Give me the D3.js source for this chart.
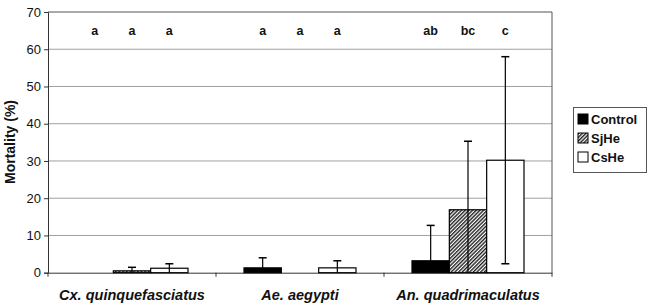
<!DOCTYPE html>
<html>
<head>
<meta charset="utf-8">
<script src="https://cdn.jsdelivr.net/npm/d3@7"></script>
<style>
  body { margin: 0; background: #fff; }
  svg { display: block; font-family: Arial, "Liberation Sans", sans-serif; }
</style>
</head>
<body>
<svg id="chart" width="650" height="307"></svg>
<script>
// data
const species = ["Cx. quinquefasciatus", "Ae. aegypti", "An. quadrimaculatus"];
const treatments = ["Control", "SjHe", "CsHe"];
const control = [0, 1.3, 3.2];
const sjhe = [0.5, 0, 16.9];
const cshe = [1.2, 1.3, 30.2];
const controlErr = [0, 2.7, 9.5];
const sjheErr = [0.95, 0, 18.4];
const csheErr = [1.2, 1.9, 27.8];
const letters = [["a", "a", "a"], ["a", "a", "a"], ["ab", "bc", "c"]];
const yTicks = [0, 10, 20, 30, 40, 50, 60, 70];

const fills = {Control: "#000", SjHe: "url(#hatch)", CsHe: "#fff"};

const svg = d3.select("#chart");
const pLeft = 48, pRight = 552, pTop = 12, pBottom = 272.7;

const x0 = d3.scaleBand(species, [pLeft, pRight]).paddingInner(0).paddingOuter(0);
const x1 = d3.scaleBand(treatments, [0, x0.bandwidth()]).paddingInner(0).paddingOuter(0.75);
const y = d3.scaleLinear([0, 70], [pBottom, pTop]);

const rows = species.map((s, i) => ({
    species: s,
    bars: [
        {t: "Control", v: control[i], e: controlErr[i], l: letters[i][0]},
        {t: "SjHe", v: sjhe[i], e: sjheErr[i], l: letters[i][1]},
        {t: "CsHe", v: cshe[i], e: csheErr[i], l: letters[i][2]}
    ]
}));

const defs = svg.append("defs");
const pat = defs.append("pattern")
    .attr("id", "hatch")
    .attr("patternUnits", "userSpaceOnUse")
    .attr("width", 2.6).attr("height", 2.6)
    .attr("patternTransform", "rotate(45)");
pat.append("rect").attr("width", 2.6).attr("height", 2.6).attr("fill", "#fff");
pat.append("rect").attr("width", 1.4).attr("height", 2.6).attr("fill", "#222");

// grid
svg.append("g")
    .selectAll("line")
    .data(yTicks.slice(1, -1))
    .join("line")
    .attr("x1", pLeft).attr("x2", pRight)
    .attr("y1", d => y(d)).attr("y2", d => y(d))
    .attr("stroke", "#a0a0a0").attr("stroke-width", 1);

// frame top/right
svg.append("path")
    .attr("d", `M${pLeft},${pTop}H${pRight}V${pBottom}`)
    .attr("fill", "none").attr("stroke", "#555").attr("stroke-width", 1);

// y axis
const yAxis = svg.append("g")
    .attr("transform", `translate(${pLeft},0)`)
    .call(d3.axisLeft(y).tickValues(yTicks).tickSize(4).tickPadding(3));
yAxis.select(".domain").attr("stroke", "#333");
yAxis.selectAll("line").attr("stroke", "#333");
yAxis.selectAll("text").attr("font-size", 13).attr("fill", "#111")
    .attr("font-family", "Arial, 'Liberation Sans', sans-serif");

// x axis
const xAxis = svg.append("g")
    .attr("transform", `translate(0,${pBottom})`)
    .call(d3.axisBottom(x0).tickSize(0).tickFormat(""));
xAxis.select(".domain").attr("stroke", "#333");
svg.append("g")
    .selectAll("line")
    .data([pLeft, ...species.map(s => x0(s) + x0.bandwidth())])
    .join("line")
    .attr("x1", d => d).attr("x2", d => d)
    .attr("y1", pBottom).attr("y2", pBottom + 4)
    .attr("stroke", "#333");

svg.append("g")
    .selectAll("text")
    .data(species)
    .join("text")
    .attr("x", d => x0(d) + x0.bandwidth() / 2)
    .attr("y", 300)
    .attr("text-anchor", "middle")
    .attr("font-size", 14.5)
    .attr("font-weight", "bold")
    .attr("font-style", "italic")
    .attr("fill", "#111")
    .text(d => d);

// bars
const groups = svg.append("g").selectAll("g")
    .data(rows)
    .join("g")
    .attr("transform", d => `translate(${x0(d.species)},0)`);

groups.selectAll("rect")
    .data(d => d.bars)
    .join("rect")
    .attr("x", d => x1(d.t))
    .attr("y", d => y(d.v))
    .attr("width", x1.bandwidth())
    .attr("height", d => y(0) - y(d.v))
    .attr("fill", d => fills[d.t])
    .attr("stroke", "#000")
    .attr("stroke-width", 1.2);

// error bars
const errs = groups.append("g")
    .selectAll("g")
    .data(d => d.bars.filter(b => b.e > 0))
    .join("g");
errs.append("line")
    .attr("x1", d => x1(d.t) + x1.bandwidth() / 2)
    .attr("x2", d => x1(d.t) + x1.bandwidth() / 2)
    .attr("y1", d => y(d.v + d.e))
    .attr("y2", d => y(Math.max(0, d.v - d.e)))
    .attr("stroke", "#000").attr("stroke-width", 1.2);
errs.append("line")
    .attr("x1", d => x1(d.t) + x1.bandwidth() / 2 - 4)
    .attr("x2", d => x1(d.t) + x1.bandwidth() / 2 + 4)
    .attr("y1", d => y(d.v + d.e))
    .attr("y2", d => y(d.v + d.e))
    .attr("stroke", "#000").attr("stroke-width", 1.5);
errs.filter(d => d.v - d.e > 0).append("line")
    .attr("x1", d => x1(d.t) + x1.bandwidth() / 2 - 4)
    .attr("x2", d => x1(d.t) + x1.bandwidth() / 2 + 4)
    .attr("y1", d => y(d.v - d.e))
    .attr("y2", d => y(d.v - d.e))
    .attr("stroke", "#000").attr("stroke-width", 1.5);

// significance letters
groups.selectAll("text.sig")
    .data(d => d.bars)
    .join("text")
    .attr("class", "sig")
    .attr("x", d => x1(d.t) + x1.bandwidth() / 2)
    .attr("y", y(65) + 4)
    .attr("text-anchor", "middle")
    .attr("font-size", 12.5)
    .attr("font-weight", "bold")
    .attr("fill", "#111")
    .text(d => d.l);

// y label
svg.append("text")
    .attr("transform", "translate(15,142) rotate(-90)")
    .attr("text-anchor", "middle")
    .attr("font-size", 14)
    .attr("font-weight", "bold")
    .attr("fill", "#111")
    .text("Mortality (%)");

// legend
const lg = svg.append("g");
lg.append("rect")
    .attr("x", 573.5).attr("y", 107.5)
    .attr("width", 73).attr("height", 65)
    .attr("fill", "#fff").attr("stroke", "#555");
const items = lg.selectAll("g")
    .data(treatments)
    .join("g")
    .attr("transform", (d, i) => `translate(578,${114 + i * 19})`);
items.append("rect")
    .attr("width", 10).attr("height", 10)
    .attr("fill", d => fills[d])
    .attr("stroke", "#000");
items.append("text")
    .attr("x", 13).attr("y", 10)
    .attr("font-size", 13)
    .attr("font-weight", "bold")
    .attr("fill", "#111")
    .text(d => d);
</script>
</body>
</html>
